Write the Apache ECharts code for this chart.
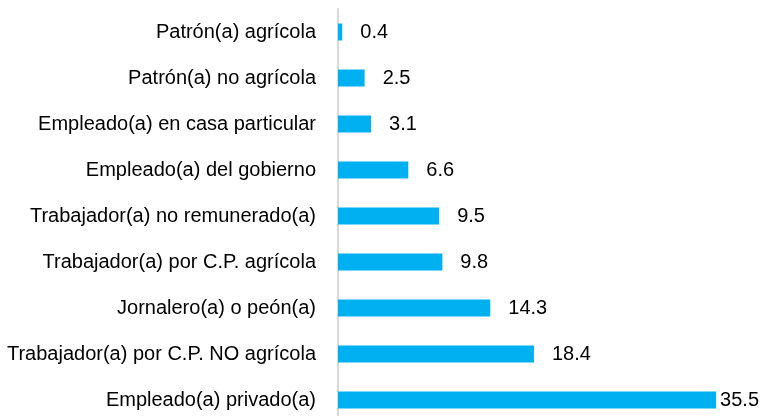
<!DOCTYPE html>
<html><head><meta charset="utf-8">
<script src="https://cdn.jsdelivr.net/npm/echarts@6/dist/echarts.min.js"></script>
<style>html,body{margin:0;padding:0;background:#fff}#c{width:761px;height:416px}</style>
</head><body><div id="c"></div>
<script>
const categories = ["Empleado(a) privado(a)","Trabajador(a) por C.P. NO agrícola","Jornalero(a) o peón(a)","Trabajador(a) por C.P. agrícola","Trabajador(a) no remunerado(a)","Empleado(a) del gobierno","Empleado(a) en casa particular","Patrón(a) no agrícola","Patrón(a) agrícola"];
const values = [35.5,18.4,14.3,9.8,9.5,6.6,3.1,2.5,0.4];
const FONT = "'Liberation Sans Narrow','Arial Narrow','Liberation Sans',Arial,sans-serif";
const chart = echarts.init(document.getElementById('c'));
chart.setOption({
  animation:false,
  grid:{left:338, top:9, width:426, height:414, containLabel:false, outerBoundsMode:'none'},
  xAxis:{type:'value', min:0, max:40, show:false},
  yAxis:{type:'category', data:categories,
    axisLine:{show:true, lineStyle:{color:'#d9d9d9', width:2}},
    axisTick:{show:false},
    axisLabel:{color:'#000', fontSize:20, fontFamily:FONT, margin:22}},
  series:[{type:'bar', barWidth:17,
    data:values.map((v,i)=>({value:v, label:{distance: i===0?4:18}})),
    itemStyle:{color:'#00B0F0'},
    label:{show:true, position:'right', color:'#000', fontSize:20, fontFamily:FONT,
      formatter:p=>p.value.toFixed(1)}}]
});
</script></body></html>
